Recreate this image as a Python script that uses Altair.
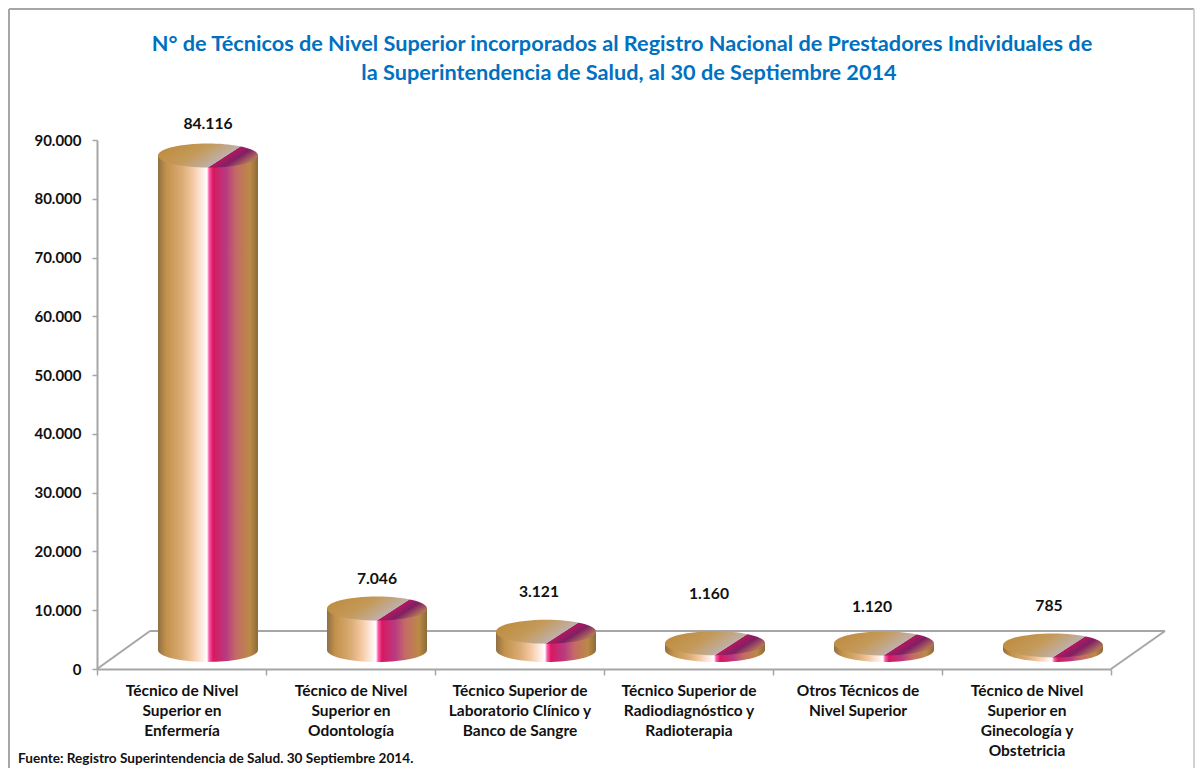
import altair as alt
import pandas as pd

categories = [
    "Técnico de Nivel|Superior en|Enfermería",
    "Técnico de Nivel|Superior en|Odontología",
    "Técnico Superior de|Laboratorio Clínico y|Banco de Sangre",
    "Técnico Superior de|Radiodiagnóstico y|Radioterapia",
    "Otros Técnicos de|Nivel Superior",
    "Técnico de Nivel|Superior en|Ginecología y|Obstetricia",
]
values = [84116, 7046, 3121, 1160, 1120, 785]
value_labels = ["84.116", "7.046", "3.121", "1.160", "1.120", "785"]
title_lines = [
    "N° de Técnicos de Nivel Superior incorporados al Registro Nacional de Prestadores Individuales de",
    "la Superintendencia de Salud, al 30 de Septiembre  2014",
]
source_note = "Fuente: Registro Superintendencia de Salud. 30 Septiembre 2014."

FONT = "Lato"
W, H = 1014, 529
GREY = "#a6a6a6"
TXT = "#111111"

df = pd.DataFrame({"cat": categories, "val": values, "lab": value_labels, "zero": [0] * len(values)})

y_scale = alt.Scale(domain=[0, 90000], nice=False)
y_axis = alt.Axis(values=list(range(0, 100000, 10000)),
                  labelExpr="replace(format(datum.value, ','), ',', '.')",
                  labelFont=FONT, labelFontWeight="bold", labelFontSize=15, labelColor=TXT,
                  labelPadding=11, tickSize=5, tickColor=GREY, tickWidth=1.5,
                  domainColor=GREY, domainWidth=2, grid=False)

x_enc = alt.X("cat:N", sort=categories, title=None,
              scale=alt.Scale(paddingInner=0, paddingOuter=0),
              axis=alt.Axis(labelExpr="split(datum.label, '|')", labelAngle=0, labelAlign="center",
                            labelBaseline="top", labelFont=FONT, labelFontWeight="bold", labelFontSize=15.5,
                            labelColor=TXT, labelLineHeight=20, labelPadding=8, labelLimit=0,
                            tickBand="extent", tickSize=6, tickColor=GREY, tickWidth=1.5,
                            domainColor=GREY, domainWidth=2, grid=False))
y_enc = alt.Y("val:Q", title=None, stack=None, scale=y_scale, axis=y_axis)

side = alt.Gradient(gradient="linear", x1=0, x2=1, y1=0, y2=0, stops=[
    alt.GradientStop(color="#8f6f45", offset=0),
    alt.GradientStop(color="#c2914a", offset=0.08),
    alt.GradientStop(color="#dcae78", offset=0.25),
    alt.GradientStop(color="#f5c9a4", offset=0.35),
    alt.GradientStop(color="#ffeee8", offset=0.45),
    alt.GradientStop(color="#ffffff", offset=0.49),
    alt.GradientStop(color="#ff5fae", offset=0.51),
    alt.GradientStop(color="#d8185f", offset=0.55),
    alt.GradientStop(color="#b83a80", offset=0.68),
    alt.GradientStop(color="#c46a68", offset=0.78),
    alt.GradientStop(color="#bb8a45", offset=0.92),
    alt.GradientStop(color="#8c6a3a", offset=1),
])
top = alt.Gradient(gradient="linear", x1=0, y1=0.13, x2=1, y2=0.5, stops=[
    alt.GradientStop(color="#bd8a3a", offset=0),
    alt.GradientStop(color="#c49a5a", offset=0.42),
    alt.GradientStop(color="#bfb0a8", offset=0.72),
    alt.GradientStop(color="#b01860", offset=0.73),
    alt.GradientStop(color="#7f2064", offset=0.85),
    alt.GradientStop(color="#b0705a", offset=1),
])

k = 0.5523
r = 0.24
ELLIPSE = (f"M-1,0 C-1,{-k*r} {-k},{-r} 0,{-r} C{k},{-r} 1,{-k*r} 1,0 "
           f"C1,{k*r} {k},{r} 0,{r} C{-k},{r} -1,{k*r} -1,0 Z")
DX, DY = 26.5, -19


def guide(x1, y1, x2, y2, color=GREY):
    return alt.Chart(df.head(1)).mark_rule(color=color, strokeWidth=2).encode(
        x=alt.value(x1), y=alt.value(y1), x2=alt.value(x2), y2=alt.value(y2))


floor = [
    guide(0, H, 53, 491),
    guide(53, 491, 1068, 491),
    guide(1014, H, 1068, 491),
]
frame = [
    guide(-88, -131, 1097, -131),
    guide(-88, -131, -88, 628),
    guide(1097, -131, 1097, 628, "#d0d0d0"),
]

bottom = alt.Chart(df).mark_point(shape=ELLIPSE, filled=True, size=10000, fill=side, opacity=1,
                                  strokeWidth=0, xOffset=DX, yOffset=DY).encode(
    x=x_enc, y=alt.Y("zero:Q", scale=y_scale, title=None, axis=y_axis))
body = alt.Chart(df).mark_bar(size=100, fill=side, xOffset=DX, yOffset=DY, y2Offset=DY).encode(
    x=x_enc, y=y_enc, y2="zero:Q")
cap = alt.Chart(df).mark_point(shape=ELLIPSE, filled=True, size=10000, fill=top, opacity=1,
                               strokeWidth=0, xOffset=DX, yOffset=DY).encode(x=x_enc, y=y_enc)

nudges = [(26.5, -50.6), (26.5, -48.6), (19.5, -58.7), (20.5, -68), (14.5, -55), (22.5, -58)]
labels = [
    alt.Chart(df.iloc[[i]]).mark_text(font=FONT, fontWeight="bold", fontSize=15.7, color=TXT,
                                      baseline="middle", dx=nudges[i][0], dy=nudges[i][1]
                                      ).encode(x=x_enc, y=y_enc, text="lab:N")
    for i in range(len(categories))
]

note = alt.Chart(pd.DataFrame({"t": [source_note]})).mark_text(
    font=FONT, fontWeight="bold", fontSize=13.6, color=TXT, align="left", baseline="middle"
).encode(x=alt.value(-79), y=alt.value(619), text="t:N")

title_marks = [
    alt.Chart(pd.DataFrame({"t": [line]})).mark_text(
        font=FONT, fontWeight="bold", fontSize=21.7, color="#0070c0", align="center", baseline="middle"
    ).encode(x=alt.value(xx), y=alt.value(yy), text="t:N")
    for line, xx, yy in zip(title_lines, [525, 532], [-96, -67])
]

chart = alt.layer(*frame, *floor, bottom, body, cap, *labels, note, *title_marks).properties(
    width=W, height=H,
    padding={"left": 89, "top": 132, "right": 84, "bottom": 99},
    autosize=alt.AutoSizeParams(type="none"),
).configure_view(stroke=None)

chart.save("out.html", embed_options={"renderer": "svg", "actions": False})
